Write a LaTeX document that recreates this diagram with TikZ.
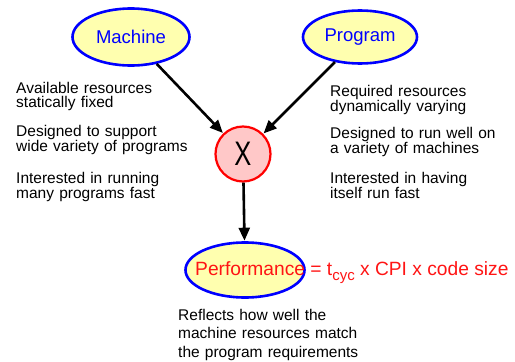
\documentclass[tikz,border=0pt]{standalone}
\usepackage{fontspec}
\setmainfont{Liberation Sans}
\usetikzlibrary{shapes.geometric,arrows.meta}
\definecolor{BubbleBlue}{RGB}{0,0,255}
\definecolor{BubbleFill}{RGB}{255,255,175}
\definecolor{CrossFill}{RGB}{255,200,200}
\definecolor{PerfRed}{RGB}{255,20,20}

\begin{document}
\begin{tikzpicture}[
x=1pt,y=-1pt,
bubble/.style={
  ellipse,
  draw=BubbleBlue,
  line width=2.6pt,
  fill=BubbleFill,
  inner sep=0pt,
  text=BubbleBlue,
  font=\fontsize{18.5}{20}\selectfont
},
cross/.style={
  circle,
  draw=red,
  line width=2.2pt,
  fill=CrossFill,
  minimum size=55pt,
  inner sep=0pt,
  font=\fontsize{34}{34}\selectfont
},
note/.style={
  anchor=base west,
  inner sep=0pt,
  text width=6.5cm,
  align=left,
  font=\fontsize{15.5}{14.3}\selectfont
},
arrow/.style={-{Triangle[length=13pt,width=11pt]},line width=2.6pt,draw=black,shorten >=0.5pt}
]
\useasboundingbox (0,0) rectangle (515,362);

% the two inputs and the product
\node[bubble,minimum width=117pt,minimum height=57pt] (machine) at (131,37) {Machine};
\node[bubble,minimum width=114pt,minimum height=53pt] (program) at (360,37) {Program};
\node[cross] (x) at (243,154) {\scalebox{0.75}[1]{X}};
\node[bubble,minimum width=119pt,minimum height=55pt] (perf) at (245,270) {};
\node[anchor=base west,inner sep=0pt,text=PerfRed,font=\fontsize{19.2}{20}\selectfont]
  (formula) at (195,275.5)
  {Performance = t\raisebox{-4.5pt}{\fontsize{15}{15}\selectfont cyc} x CPI x code size};

% remarks on each side
\node[note] (m1) at (16,93.5) {Available resources\\statically fixed};
\node[note] (m2) at (16,136.5) {Designed to support\\wide variety of programs};
\node[note] (m3) at (16,183) {Interested in running\\many programs fast};
\node[note] (p1) at (330,96) {Required resources\\dynamically varying};
\node[note] (p2) at (330,138.5) {Designed to run well on\\a variety of machines};
\node[note] (p3) at (330,183.5) {Interested in having\\itself run fast};
\node[note,font=\fontsize{15.5}{18.5}\selectfont] (r) at (178,320)
  {Reflects how well the\\machine resources match\\the program requirements};

\draw[arrow] (machine)--(x);
\draw[arrow] (program)--(x);
\draw[arrow] (x)--(perf);
\end{tikzpicture}
\end{document}
